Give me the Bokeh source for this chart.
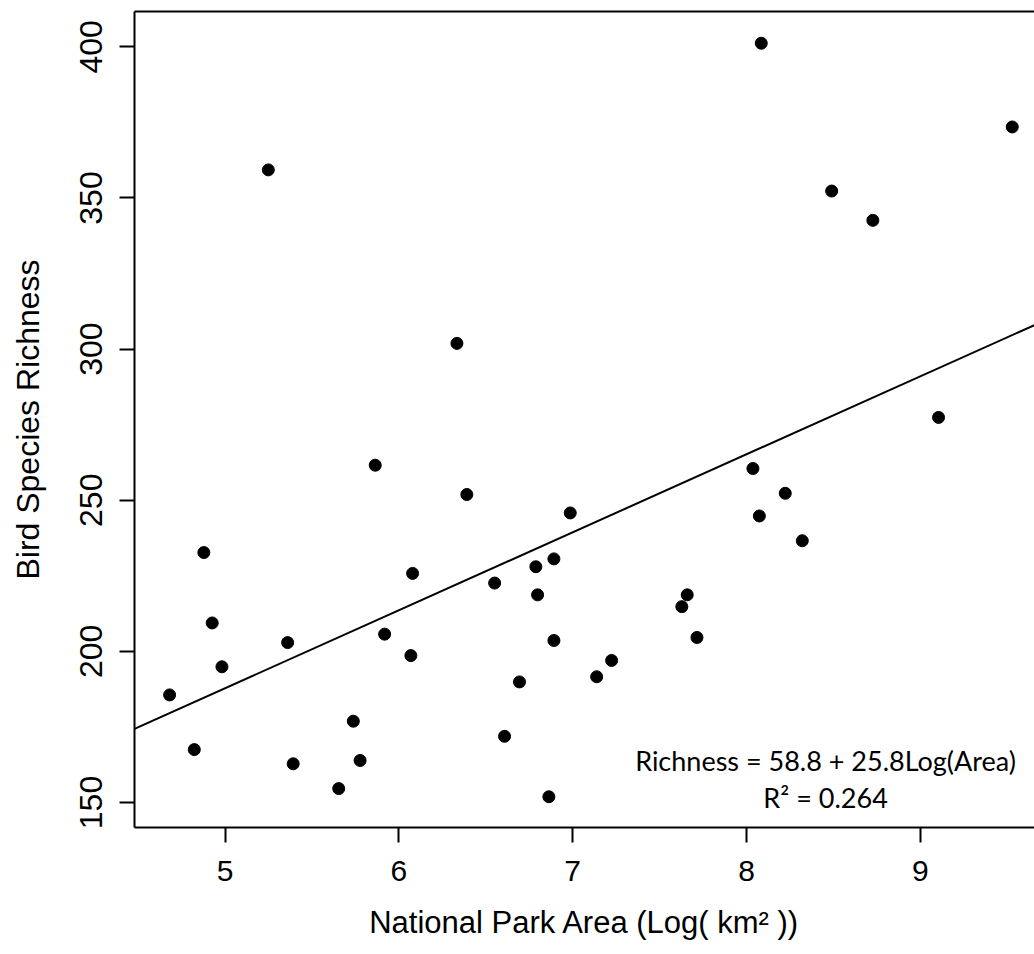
from bokeh.plotting import figure
from bokeh.models import Range1d, LinearAxis, FixedTicker, Label
from bokeh.embed import file_html
from bokeh.resources import INLINE

# ---- data ----
log_area = [5.864, 4.878, 6.079, 4.926, 5.360, 5.918, 6.069, 4.982, 4.681, 5.738,
            4.823, 5.392, 5.777, 5.654, 6.391, 6.986, 6.892, 6.788, 6.551, 6.798,
            7.659, 7.628, 6.892, 7.715, 7.224, 7.138, 6.694, 6.608, 6.863, 9.105,
            8.037, 8.223, 8.074, 8.321, 5.249, 6.334, 8.085, 9.529, 8.490, 8.727]
richness = [261.6, 232.7, 225.8, 209.4, 202.9, 205.7, 198.6, 194.9, 185.6, 176.9,
            167.5, 162.8, 163.9, 154.6, 251.9, 245.8, 230.6, 228.0, 222.6, 218.7,
            218.7, 214.8, 203.6, 204.6, 197.0, 191.6, 189.9, 171.9, 151.9, 277.4,
            260.5, 252.3, 244.8, 236.6, 359.3, 301.9, 401.2, 373.5, 352.3, 342.6]

intercept = 58.8
slope = 25.8
r_squared = 0.264

x_ticks = [5, 6, 7, 8, 9]
y_ticks = [150, 200, 250, 300, 350, 400]
x_title = "National Park Area (Log( km\u00b2 ))"
y_title = "Bird Species Richness"
eq_text = f"Richness = {intercept} + {slope}Log(Area)"
r2_text = f"R\u00b2 = {r_squared}"

# ---- figure ----
x0, x1 = 4.479, 9.657
y0, y1 = 141.73, 411.7

p = figure(width=1034, height=954, output_backend="svg", toolbar_location=None,
           x_range=Range1d(x0, x1), y_range=Range1d(y0, y1),
           min_border_left=134, min_border_right=0, min_border_top=11,
           min_border_bottom=127)
p.outline_line_color = None
p.xgrid.visible = False
p.ygrid.visible = False
p.background_fill_color = "white"
p.border_fill_color = "white"

axis_font = "Liberation Sans"

xa = p.xaxis[0]
xa.ticker = FixedTicker(ticks=x_ticks)
xa.axis_line_width = 2
xa.major_tick_line_width = 2
xa.major_tick_out = 15
xa.major_tick_in = 0
xa.minor_tick_out = 0
xa.minor_tick_in = 0
xa.major_label_text_font = axis_font
xa.major_label_text_font_size = "30px"
xa.major_label_text_color = "black"
xa.major_label_standoff = 18
xa.axis_label = x_title
xa.axis_label_text_font = axis_font
xa.axis_label_text_font_size = "31px"
xa.axis_label_text_font_style = "normal"
xa.axis_label_text_color = "black"
xa.axis_label_standoff = 21

ya = p.yaxis[0]
ya.ticker = FixedTicker(ticks=y_ticks)
ya.axis_line_width = 2
ya.major_tick_line_width = 2
ya.major_tick_out = 15
ya.major_tick_in = 0
ya.minor_tick_out = 0
ya.minor_tick_in = 0
ya.major_label_text_font = axis_font
ya.major_label_text_font_size = "32px"
ya.major_label_text_color = "black"
ya.major_label_orientation = "parallel"
ya.major_label_standoff = 17
ya.axis_label = y_title
ya.axis_label_text_font = axis_font
ya.axis_label_text_font_size = "32px"
ya.axis_label_text_font_style = "normal"
ya.axis_label_text_color = "black"
ya.axis_label_standoff = 32

top = LinearAxis(ticker=FixedTicker(ticks=[]), axis_line_width=2,
                 major_tick_out=0, major_tick_in=0, minor_tick_out=0, minor_tick_in=0,
                 major_label_standoff=0, major_label_text_font_size="0px")
p.add_layout(top, "above")

# regression line
lx = [x0, x1]
ly = [intercept + slope * v for v in lx]
p.line(lx, ly, line_color="black", line_width=2)

# points
p.scatter(log_area, richness, size=12, color="black")

# annotation
p.add_layout(Label(x=8.455, y=164.0, text=eq_text, text_align="center",
                   text_baseline="alphabetic", text_font="Lato",
                   text_font_size="27px", text_color="black"))
p.add_layout(Label(x=8.455, y=151.6, text=r2_text, text_align="center",
                   text_baseline="alphabetic", text_font="Lato",
                   text_font_size="27px", text_color="black"))

open("out.html", "w").write(file_html(p, INLINE))
